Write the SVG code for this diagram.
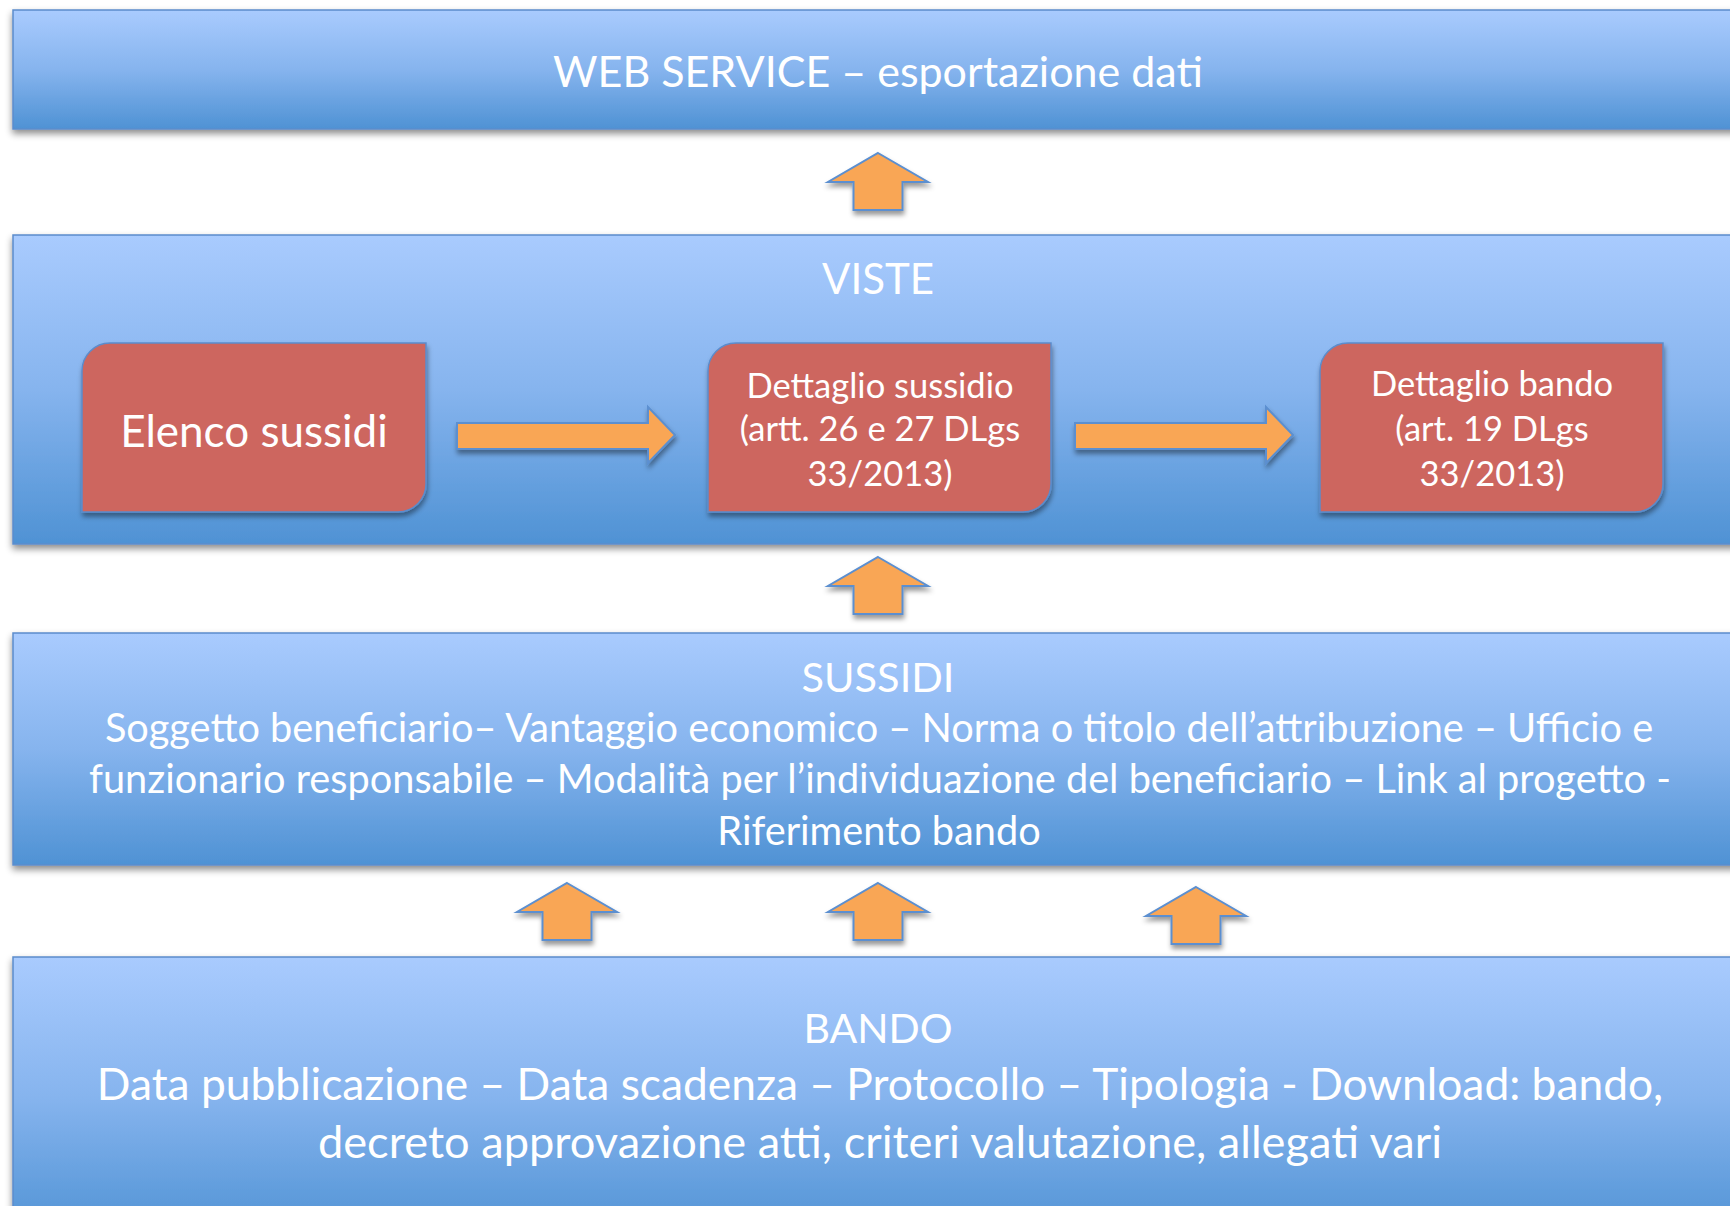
<svg xmlns="http://www.w3.org/2000/svg" width="1730" height="1206" viewBox="0 0 1730 1206">
  <defs>
    <linearGradient id="bandGrad" x1="0" y1="0" x2="0" y2="1">
      <stop offset="0" stop-color="#a9cbfe"/>
      <stop offset="0.5" stop-color="#86b4ee"/>
      <stop offset="1" stop-color="#4f92d4"/>
    </linearGradient>
    <filter id="bandShadow" x="-5%" y="-10%" width="110%" height="130%">
      <feDropShadow dx="0" dy="4" stdDeviation="3.5" flood-color="#000" flood-opacity="0.45"/>
    </filter>
    <filter id="shapeShadow" x="-10%" y="-10%" width="130%" height="130%">
      <feDropShadow dx="1" dy="4" stdDeviation="2.5" flood-color="#000" flood-opacity="0.4"/>
    </filter>
  </defs>
  <style>
    .band { fill: url(#bandGrad); stroke: #5b8ccc; stroke-width: 1.5; filter: url(#bandShadow); }
    .box { fill: #cd665f; stroke: #5b8ccc; stroke-width: 1.5; filter: url(#shapeShadow); }
    .arrow { fill: #f9a654; stroke: #5b8fd0; stroke-width: 2; stroke-linejoin: miter; filter: url(#shapeShadow); }
    text { font-family: Lato, "Liberation Sans", sans-serif; fill: #ffffff; text-anchor: middle; }
    .title { font-size: 43px; }
    .body1 { font-size: 39.7px; }
    .body2 { font-size: 44.3px; }
    .boxt { font-size: 34.5px; }
    .boxbig { font-size: 44px; }
  </style>

  <rect width="1730" height="1206" fill="#ffffff"/>

  <g id="web-service">
    <rect class="band" x="13" y="10" width="1740" height="119"/>
    <text class="title" x="878" y="87">WEB SERVICE – esportazione dati</text>
  </g>

  <g id="viste">
    <rect class="band" x="13" y="235" width="1740" height="309"/>
    <text class="title" x="878" y="294" style="font-size:42px">VISTE</text>
  </g>

  <g id="elenco-sussidi">
    <path class="box" d="M110 343 H426 V484 A28 28 0 0 1 398 512 H82 V371 A28 28 0 0 1 110 343 Z"/>
    <text class="boxbig" x="254" y="447">Elenco sussidi</text>
  </g>

  <g id="dettaglio-sussidio">
    <path class="box" d="M736 343 H1051 V484 A28 28 0 0 1 1023 512 H708 V371 A28 28 0 0 1 736 343 Z"/>
    <text class="boxt" x="880" y="398">Dettaglio sussidio</text>
    <text class="boxt" x="880" y="441">(artt. 26 e 27 DLgs</text>
    <text class="boxt" x="880" y="486">33/2013)</text>
  </g>

  <g id="dettaglio-bando">
    <path class="box" d="M1348 343 H1663 V484 A28 28 0 0 1 1635 512 H1320 V371 A28 28 0 0 1 1348 343 Z"/>
    <text class="boxt" x="1492" y="396">Dettaglio bando</text>
    <text class="boxt" x="1492" y="441">(art. 19 DLgs</text>
    <text class="boxt" x="1492" y="486">33/2013)</text>
  </g>

  <g id="sussidi">
    <rect class="band" x="13" y="633" width="1740" height="232"/>
    <text class="title" x="878" y="692" style="font-size:41.5px">SUSSIDI</text>
    <text class="body1" x="879" y="742">Soggetto beneficiario– Vantaggio economico – Norma o titolo dell’attribuzione – Ufficio e</text>
    <text class="body1" x="880" y="793">funzionario responsabile – Modalità per l’individuazione del beneficiario – Link al progetto -</text>
    <text class="body1" x="879" y="845">Riferimento bando</text>
  </g>

  <g id="bando">
    <rect class="band" x="13" y="957" width="1740" height="280"/>
    <text class="title" x="878" y="1043" style="font-size:41px">BANDO</text>
    <text class="body2" x="880" y="1100">Data pubblicazione – Data scadenza – Protocollo – Tipologia - Download: bando,</text>
    <text class="body2" x="880" y="1158" style="font-size:45.2px">decreto approvazione atti, criteri valutazione, allegati vari</text>
  </g>

  <g id="connectors">
    <path class="arrow" d="M878 153 L928 182 L902.5 182 L902.5 210 L853.5 210 L853.5 182 L828 182 Z"/>
    <path class="arrow" d="M878 557 L928 586 L902.5 586 L902.5 614 L853.5 614 L853.5 586 L828 586 Z"/>
    <path class="arrow" d="M567 883 L617 912 L591.5 912 L591.5 940 L542.5 940 L542.5 912 L517 912 Z"/>
    <path class="arrow" d="M878 883 L928 912 L902.5 912 L902.5 940 L853.5 940 L853.5 912 L828 912 Z"/>
    <path class="arrow" d="M1196 887 L1246 916 L1220.5 916 L1220.5 944 L1171.5 944 L1171.5 916 L1146 916 Z"/>
    <path class="arrow" d="M457 423 H648 V407 L675 435 L648 463 V449 H457 Z"/>
    <path class="arrow" d="M1075 423 H1266 V407 L1293 435 L1266 463 V449 H1075 Z"/>
  </g>
</svg>
